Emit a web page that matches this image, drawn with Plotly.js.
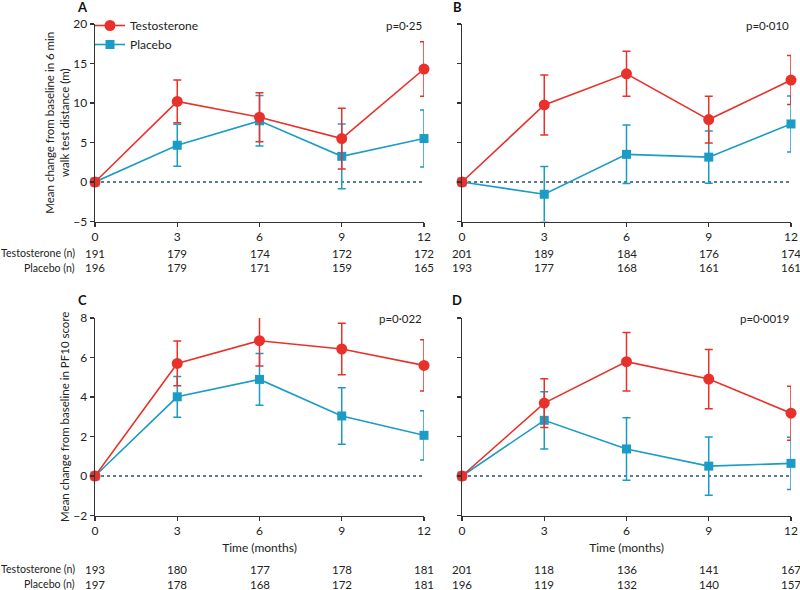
<!DOCTYPE html>
<html>
<head>
<meta charset="utf-8">
<script src="https://cdn.plot.ly/plotly-3.0.1.min.js"></script>
<style>html,body{margin:0;padding:0;background:#fff}#chart{width:800px;height:590px}</style>
</head>
<body>
<div id="chart"></div>
<script>
// ---- data ----
const months = [0, 3, 6, 9, 12];

// Panel A: 6 min walk test distance (m)
const aTestMean = [0, 10.2, 8.2, 5.5, 14.3];
const aTestErr  = [0, 2.7, 3.1, 3.85, 3.45];
const aPlacMean = [0, 4.65, 7.75, 3.25, 5.5];
const aPlacErr  = [0, 2.65, 3.2, 4.1, 3.6];
const aTestN = [191, 179, 174, 172, 172];
const aPlacN = [196, 179, 171, 159, 165];

// Panel B
const bTestMean = [0, 9.75, 13.7, 7.9, 12.9];
const bTestErr  = [0, 3.8, 2.85, 2.95, 3.1];
const bPlacMean = [0, -1.55, 3.5, 3.15, 7.35];
const bPlacErr  = [0, 3.5, 3.7, 3.3, 3.55];
const bTestN = [201, 189, 184, 176, 174];
const bPlacN = [193, 177, 168, 161, 161];

// Panel C: PF10 score
const cTestMean = [0, 5.7, 6.85, 6.43, 5.6];
const cTestErr  = [0, 1.13, 1.28, 1.3, 1.3];
const cPlacMean = [0, 4.01, 4.89, 3.04, 2.06];
const cPlacErr  = [0, 1.03, 1.31, 1.43, 1.25];
const cTestN = [193, 180, 177, 178, 181];
const cPlacN = [197, 178, 168, 172, 181];

// Panel D
const dTestMean = [0, 3.69, 5.79, 4.91, 3.18];
const dTestErr  = [0, 1.23, 1.48, 1.5, 1.37];
const dPlacMean = [0, 2.82, 1.37, 0.5, 0.64];
const dPlacErr  = [0, 1.45, 1.58, 1.47, 1.32];
const dTestN = [201, 118, 136, 141, 167];
const dPlacN = [196, 119, 132, 140, 157];

const panelLetters = ['A', 'B', 'C', 'D'];
const pValues = ['p=0·25', 'p=0·010', 'p=0·022', 'p=0·0019'];
const seriesNames = ['Testosterone', 'Placebo'];
const rowLabels = ['Testosterone (n)', 'Placebo (n)'];
const yTitleTop = 'Mean change from baseline in 6 min<br>walk test distance (m)';
const yTitleBottom = 'Mean change from baseline in PF10 score';
const xTitle = 'Time (months)';

// ---- styles ----
const RED = '#e8312a';
const CYAN = '#1b9cc6';
const AX = '#333333';
const FONT = 'Lato, "Open Sans", sans-serif';

function tr(y, err, name, color, symbol, size, xa, ya, show) {
  return {
    type: 'scatter', mode: 'lines+markers', x: months, y: y, name: name,
    xaxis: xa, yaxis: ya, showlegend: show, cliponaxis: false,
    line: {color: color, width: 1.6},
    marker: {color: color, symbol: symbol, size: size},
    error_y: {type: 'data', array: err, visible: true, color: color, thickness: 1.5, width: 4}
  };
}

const data = [
  tr(aPlacMean, aPlacErr, seriesNames[1], CYAN, 'square', 9, 'x', 'y', false),
  tr(aTestMean, aTestErr, seriesNames[0], RED, 'circle', 11, 'x', 'y', false),
  tr(bPlacMean, bPlacErr, seriesNames[1], CYAN, 'square', 9, 'x2', 'y2', false),
  tr(bTestMean, bTestErr, seriesNames[0], RED, 'circle', 11, 'x2', 'y2', false),
  tr(cPlacMean, cPlacErr, seriesNames[1], CYAN, 'square', 9, 'x3', 'y3', false),
  tr(cTestMean, cTestErr, seriesNames[0], RED, 'circle', 11, 'x3', 'y3', false),
  tr(dPlacMean, dPlacErr, seriesNames[1], CYAN, 'square', 9, 'x4', 'y4', false),
  tr(dTestMean, dTestErr, seriesNames[0], RED, 'circle', 11, 'x4', 'y4', false)
];
// legend entries (panel A)
data.push(Object.assign(tr([null,null,null,null,null], [0,0,0,0,0], seriesNames[0], RED, 'circle', 11, 'x', 'y', true), {legendrank: 1}));
data.push(Object.assign(tr([null,null,null,null,null], [0,0,0,0,0], seriesNames[1], CYAN, 'square', 9, 'x', 'y', true), {legendrank: 2}));

const W = 800, H = 590;
const xdomL = [95 / W, 424 / W], xdomR = [462 / W, 791 / W];
const ydomT = [1 - 221.5 / H, 1 - 24 / H], ydomB = [1 - 515.5 / H, 1 - 318 / H];

function xax(dom, anchor, title) {
  const o = {
    domain: dom, anchor: anchor, range: [0, 12], tickvals: months, ticktext: months.map(String),
    showgrid: false, zeroline: false, showline: true, linecolor: AX, linewidth: 1.5,
    ticks: 'outside', ticklen: 4, tickwidth: 1.2, tickcolor: AX,
    tickfont: {size: 12, color: '#222', family: FONT}, fixedrange: true
  };
  if (title) o.title = {text: title, font: {size: 12, color: '#222', family: FONT}, standoff: 6};
  return o;
}
function yax(dom, anchor, range, dtick, labels, title) {
  const o = {
    domain: dom, anchor: anchor, range: range, dtick: dtick, tick0: 0,
    showgrid: false, zeroline: false, showline: true, linecolor: AX, linewidth: 1.5,
    ticks: 'outside', ticklen: 4, tickwidth: 1.2, tickcolor: AX, showticklabels: labels,
    tickfont: {size: 12, color: '#222', family: FONT}, fixedrange: true
  };
  if (title) o.title = {text: title, font: {size: 11.5, color: '#222', family: FONT}, standoff: 1};
  return o;
}

const annotations = [];
const letterPos = [[82, 7], [457, 7], [82, 300], [457, 300]];
panelLetters.forEach((t, i) => annotations.push({
  text: '<b>' + t + '</b>', xref: 'paper', yref: 'paper', x: letterPos[i][0] / W, y: 1 - letterPos[i][1] / H,
  xanchor: 'center', yanchor: 'middle', showarrow: false, font: {size: 13, color: '#111', family: FONT}
}));
const pPos = [[424, 25], [791, 25], [424, 318], [791, 318]];
pValues.forEach((t, i) => annotations.push({
  text: t, xref: 'paper', yref: 'paper', x: pPos[i][0] / W, y: 1 - pPos[i][1] / H,
  xanchor: 'right', yanchor: 'middle', showarrow: false, font: {size: 11.5, color: '#222', family: FONT}
}));
const rowY = [[253, 268], [569, 584]];
rowY.forEach(ys => {
  rowLabels.forEach((t, j) => annotations.push({
    text: t, xref: 'paper', yref: 'paper', x: 77 / W, y: 1 - ys[j] / H,
    xanchor: 'right', yanchor: 'middle', showarrow: false, font: {size: 10.6, color: '#222', family: FONT}
  }));
});
function nRow(arr, xref, ypix) {
  arr.forEach((n, k) => annotations.push({
    text: String(n), xref: xref, yref: 'paper', x: months[k], y: 1 - ypix / H,
    xanchor: 'center', yanchor: 'middle', showarrow: false, font: {size: 11.5, color: '#222', family: FONT}
  }));
}
nRow(aTestN, 'x', 253); nRow(aPlacN, 'x', 268);
nRow(bTestN, 'x2', 253); nRow(bPlacN, 'x2', 268);
nRow(cTestN, 'x3', 569); nRow(cPlacN, 'x3', 584);
nRow(dTestN, 'x4', 569); nRow(dPlacN, 'x4', 584);

const shapes = ['', '2', '3', '4'].map(s => ({
  type: 'line', xref: 'x' + s + ' domain', yref: 'y' + s, x0: 0, x1: 1, y0: 0, y1: 0,
  line: {color: '#2d4f6c', width: 1.3, dash: '3px,3px'}, layer: 'below'
}));

const layout = {
  width: W, height: H, margin: {l: 0, r: 0, t: 0, b: 0},
  paper_bgcolor: '#fff', plot_bgcolor: 'rgba(0,0,0,0)',
  font: {family: FONT, color: '#222'},
  showlegend: true,
  legend: {x: 90 / W, y: 1 - 11 / H, xanchor: 'left', yanchor: 'top', bgcolor: 'rgba(0,0,0,0)',
           font: {size: 12, color: '#222', family: FONT}, itemwidth: 30, tracegroupgap: 0},
  xaxis: xax(xdomL, 'y'), yaxis: yax(ydomT, 'x', [-5, 20], 5, true, yTitleTop),
  xaxis2: xax(xdomR, 'y2'), yaxis2: yax(ydomT, 'x2', [-5, 20], 5, false),
  xaxis3: xax(xdomL, 'y3', xTitle), yaxis3: yax(ydomB, 'x3', [-2, 8], 2, true, yTitleBottom),
  xaxis4: xax(xdomR, 'y4', xTitle), yaxis4: yax(ydomB, 'x4', [-2, 8], 2, false),
  annotations: annotations, shapes: shapes
};

Plotly.newPlot('chart', data, layout, {displayModeBar: false, staticPlot: true});
</script>
</body>
</html>
